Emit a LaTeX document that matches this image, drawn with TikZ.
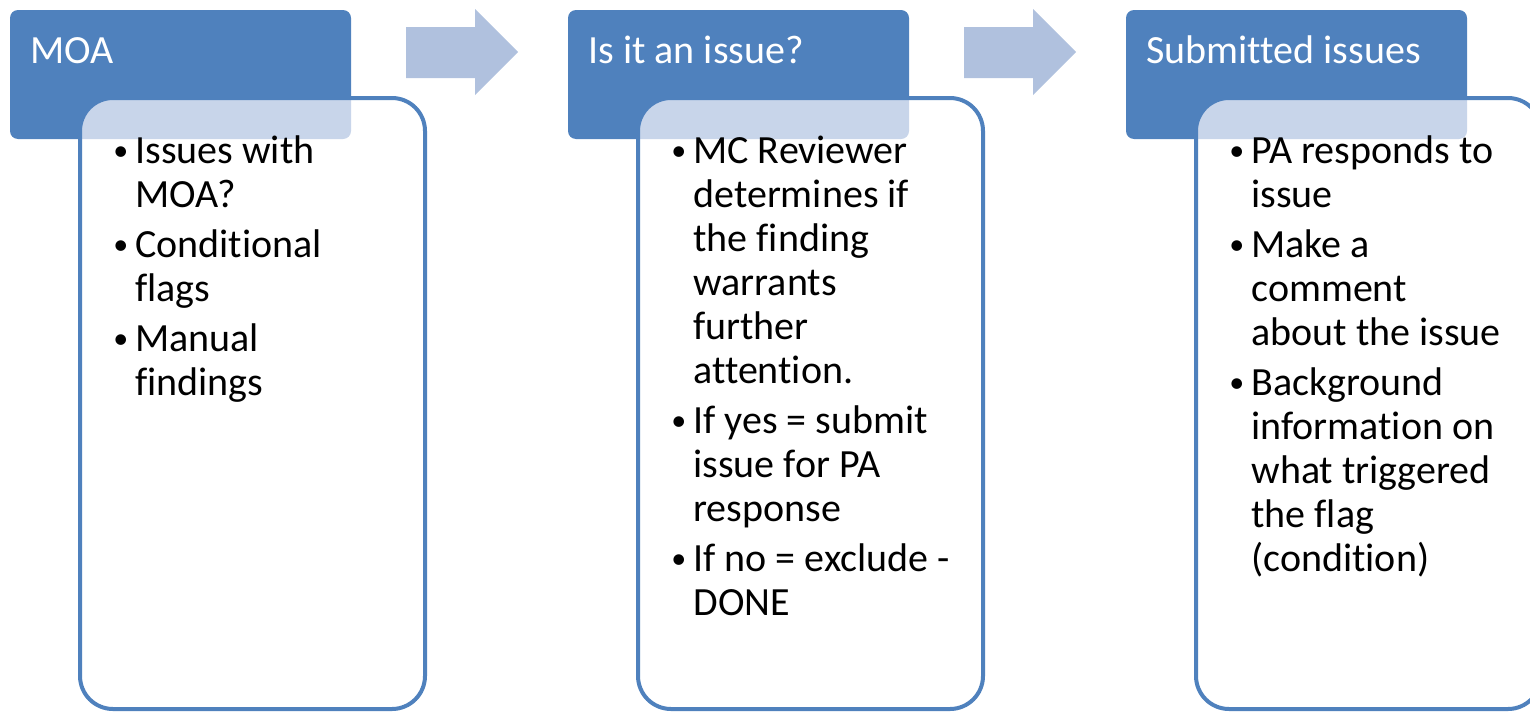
\documentclass[tikz,border=0pt]{standalone}
\usepackage{fontspec}
\setmainfont{Carlito}[Ligatures={NoCommon}]
\definecolor{hdrblue}{HTML}{4F81BD}
\definecolor{arrblue}{HTML}{B0C1DE}
\definecolor{overlapblue}{HTML}{C8D5EA}
\tikzset{
  hdrbox/.style={fill=hdrblue, rounded corners=4pt},
  bodybox/.style={draw=hdrblue, line width=2pt, rounded corners=16.5pt},
  blockarrow/.style={fill=arrblue},
  hdrtext/.style={anchor=base west, inner sep=0pt, text=white, font=\fontsize{20}{22}\selectfont},
  bodytext/.style={anchor=base west, inner sep=0pt, text=black, font=\fontsize{20}{22}\selectfont}
}
\newcommand{\bl}{\makebox[11pt][l]{\raisebox{1.3pt}{\fontsize{15}{15}\selectfont\textbullet}}}
\begin{document}
\begin{tikzpicture}[x=0.5pt,y=-0.5pt]
\useasboundingbox (0,0) rectangle (1530,712);
\clip (0,0) rectangle (1530,712);
\foreach \i/\dx in {1/0,2/558,3/1116}{
  \begin{scope}[xshift=\dx*0.5pt]
    \fill[hdrbox] (10,10) rectangle (351,139);
    \fill[white, rounded corners=16.5pt] (80,98) rectangle (425,709);
    \begin{scope}
      \clip[rounded corners=16.5pt] (80,98) rectangle (425,709);
      \fill[overlapblue, rounded corners=4pt] (10,10) rectangle (351,139);
    \end{scope}
    \draw[bodybox] (80,98) rectangle (425,709);
  \end{scope}
}
\fill[blockarrow] (406,27) -- (475,27) -- (475,9) -- (518,52) -- (475,95) -- (475,78) -- (406,78) -- cycle;
\fill[blockarrow] (964,27) -- (1033,27) -- (1033,9) -- (1076,52) -- (1033,95) -- (1033,78) -- (964,78) -- cycle;
\node[hdrtext] (h1) at (30,63) {MOA};
\node[hdrtext] (h2) at (588,63) {Is it an issue?};
\node[hdrtext] (h3) at (1146,63) {Submitted issues};
\node[bodytext] (b1) at (113,163) {\begin{tabular}[t]{@{}l@{}l@{}}
\bl & Issues with\\
 & MOA?\\[3pt]
\bl & Conditional\\
 & flags\\[3pt]
\bl & Manual\\
 & findings
\end{tabular}};
\node[bodytext] (b2) at (671,163) {\begin{tabular}[t]{@{}l@{}l@{}}
\bl & MC Reviewer\\
 & determines if\\
 & the finding\\
 & warrants\\
 & further\\
 & attention.\\[3pt]
\bl & If yes = submit\\
 & issue for PA\\
 & response\\[3pt]
\bl & If no = exclude -\\
 & DONE
\end{tabular}};
\node[bodytext] (b3) at (1229,163) {\begin{tabular}[t]{@{}l@{}l@{}}
\bl & PA responds to\\
 & issue\\[3pt]
\bl & Make a\\
 & comment\\
 & about the issue\\[3pt]
\bl & Background\\
 & information on\\
 & what triggered\\
 & the flag\\
 & (condition)
\end{tabular}};
\end{tikzpicture}
\end{document}
